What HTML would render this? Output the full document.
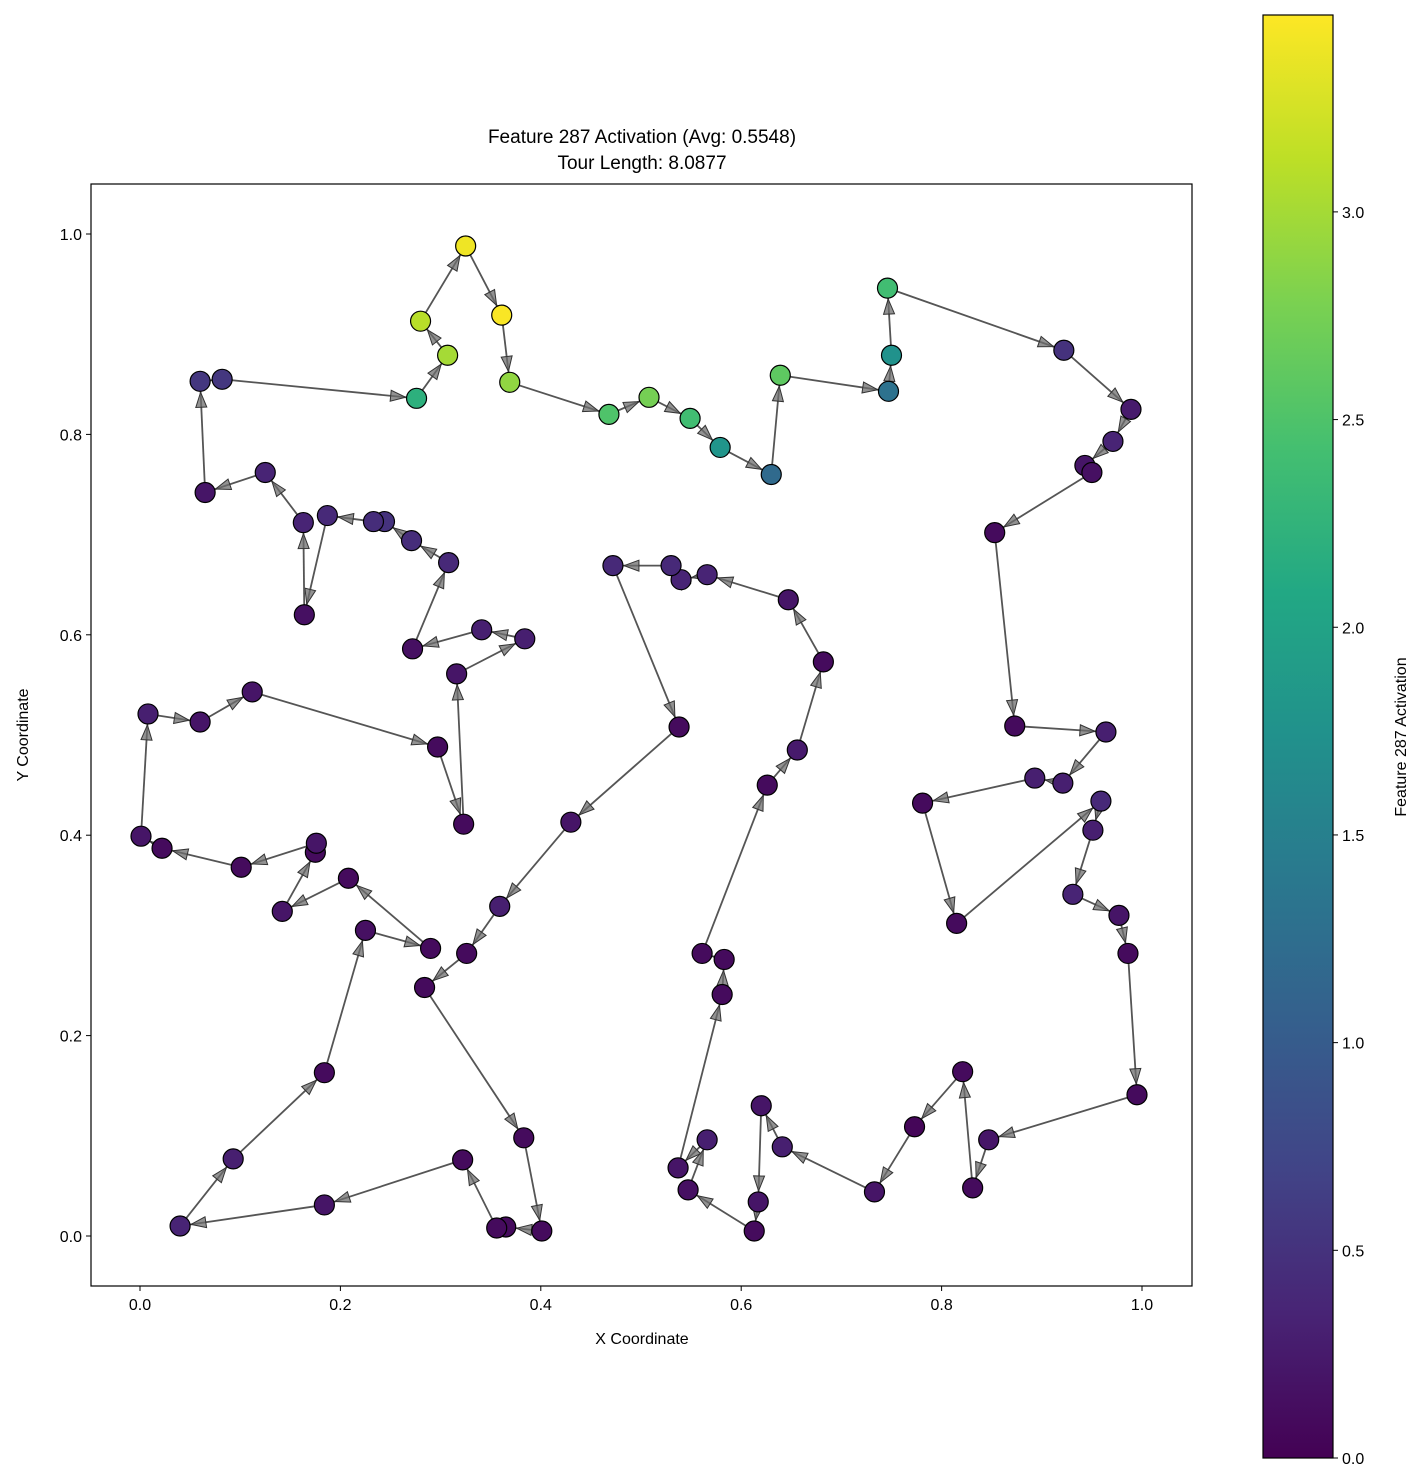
<!DOCTYPE html>
<html><head><meta charset="utf-8"><style>
body{margin:0;background:#fff;}
svg{display:block;font-family:"Liberation Sans","DejaVu Sans",sans-serif;}
</style></head><body>
<svg id="chart" width="1425" height="1484" viewBox="0 0 1425 1484" xmlns="http://www.w3.org/2000/svg">
<defs>
<linearGradient id="vir" x1="0" y1="1" x2="0" y2="0">
<stop offset="0" stop-color="#440154"/><stop offset="0.1" stop-color="#482475"/><stop offset="0.2" stop-color="#414487"/><stop offset="0.3" stop-color="#355f8d"/><stop offset="0.4" stop-color="#2a788e"/><stop offset="0.5" stop-color="#21918c"/><stop offset="0.6" stop-color="#22a884"/><stop offset="0.7" stop-color="#44bf70"/><stop offset="0.8" stop-color="#7ad151"/><stop offset="0.9" stop-color="#bddf26"/><stop offset="1" stop-color="#fde725"/>
</linearGradient>
</defs>
<text x="642" y="143" font-size="19" text-anchor="middle">Feature 287 Activation (Avg: 0.5548)</text>
<text x="642" y="169" font-size="19" text-anchor="middle">Tour Length: 8.0877</text>
<g id="plot"></g>
<rect x="91" y="184" width="1101" height="1102" fill="none" stroke="#000" stroke-width="1.2"/>
<g id="xt"></g>
<g id="yt"></g>
<text x="642" y="1344" font-size="16" text-anchor="middle">X Coordinate</text>
<text transform="translate(28,735) rotate(-90)" font-size="16" text-anchor="middle">Y Coordinate</text>
<rect x="1263" y="15" width="70" height="1443" fill="url(#vir)" stroke="#000" stroke-width="1.2"/>
<g id="ct"></g>
<text transform="translate(1406,737) rotate(-90)" font-size="16" text-anchor="middle">Feature 287 Activation</text>
</svg>
<script>
const xs=[.325,.361,.369,.468,.508,.549,.579,.630,.639,.747,.750,.746,.922,.989,.971,.943,.950,.853,.873,.964,.921,.893,.781,.815,.959,.951,.931,.977,.986,.995,.847,.831,.821,.773,.733,.641,.620,.617,.613,.547,.566,.537,.581,.583,.561,.626,.656,.682,.647,.566,.540,.530,.472,.538,.430,.359,.326,.284,.383,.401,.365,.356,.322,.184,.040,.093,.184,.225,.290,.208,.142,.175,.176,.101,.022,.001,.008,.060,.112,.297,.323,.316,.384,.341,.272,.308,.271,.244,.233,.187,.164,.163,.125,.065,.060,.082,.276,.307,.280];
const ys=[.988,.919,.852,.820,.837,.816,.787,.760,.859,.843,.879,.946,.884,.825,.793,.769,.762,.702,.509,.503,.452,.457,.432,.312,.434,.405,.341,.320,.282,.141,.096,.048,.164,.109,.044,.089,.130,.034,.005,.046,.096,.068,.241,.276,.282,.450,.485,.573,.635,.660,.655,.669,.669,.508,.413,.329,.282,.248,.098,.005,.009,.008,.076,.031,.010,.077,.163,.305,.287,.357,.324,.383,.392,.368,.387,.399,.521,.513,.543,.488,.411,.561,.596,.605,.586,.672,.694,.713,.713,.719,.620,.712,.762,.742,.853,.855,.836,.879,.913];
const acts=[3.40,3.45,2.9,2.5,2.75,2.4,1.8,1.2,2.6,1.3,1.75,2.4,.5,.25,.35,.2,.15,.1,.1,.3,.3,.3,.1,.1,.4,.3,.35,.2,.1,.1,.2,.1,.1,.05,.2,.3,.2,.2,.1,.15,.3,.2,.1,.1,.1,.1,.25,.1,.2,.35,.35,.4,.4,.1,.2,.3,.1,.1,.1,.1,.1,.1,.1,.2,.35,.3,.1,.15,.1,.1,.2,.1,.2,.1,.1,.2,.3,.2,.2,.1,.1,.2,.3,.3,.15,.4,.45,.5,.45,.4,.15,.35,.35,.2,.55,.55,2.2,3.0,3.1];
const xTicks=[0,0.2,0.4,0.6,0.8,1.0];
const yTicks=[0,0.2,0.4,0.6,0.8,1.0];
const cTicks=[0,0.5,1.0,1.5,2.0,2.5,3.0];
const VMAX=3.474;
const NS="http://www.w3.org/2000/svg";
const X=v=>140+v*1002, Y=v=>1236-v*1002, C=v=>1458-v/VMAX*1443;
const vir=["#440154","#482475","#414487","#355f8d","#2a788e","#21918c","#22a884","#44bf70","#7ad151","#bddf26","#fde725"];
function hex(h){return [1,3,5].map(i=>parseInt(h.substr(i,2),16));}
function color(v){let t=Math.max(0,Math.min(1,v/VMAX))*10;let i=Math.min(9,Math.floor(t)),f=t-i;const a=hex(vir[i]),b=hex(vir[i+1]);return "rgb("+a.map((c,k)=>Math.round(c+(b[k]-c)*f)).join(",")+")";}
function mk(tag,attrs,parent){const e=document.createElementNS(NS,tag);for(const k in attrs)e.setAttribute(k,attrs[k]);parent.appendChild(e);return e;}
const plot=document.getElementById('plot');
const n=xs.length;
for(let i=0;i<n;i++){
  const j=(i+1)%n;
  const x1=X(xs[i]),y1=Y(ys[i]),x2=X(xs[j]),y2=Y(ys[j]);
  const ln=mk('line',{x1:x1,y1:y1,x2:x2,y2:y2,stroke:'#555',"stroke-width":1.8},plot);
  
  
  const dx=x2-x1,dy=y2-y1,d=Math.hypot(dx,dy);
  if(d<14)continue;
  const ux=dx/d,uy=dy/d;
  const tx=x2-ux*11,ty=y2-uy*11,bx=tx-ux*15,by=ty-uy*15;
  const pts=[[tx,ty],[bx-uy*5.5,by+ux*5.5],[bx+uy*5.5,by-ux*5.5]].map(p=>p.join(',')).join(' ');
  const ah=mk('polygon',{points:pts,fill:'rgba(110,110,110,0.75)',stroke:'#333',"stroke-width":1},plot);
  
  
}
for(let i=0;i<n;i++){
  const c=mk('circle',{cx:X(xs[i]),cy:Y(ys[i]),r:10,fill:color(acts[i]),stroke:'#000',"stroke-width":1.2},plot);
  
  
}
const xt=document.getElementById('xt');
xTicks.forEach(v=>{
  const l=mk('line',{x1:X(v),x2:X(v),y1:1286,y2:1291,stroke:'#000'},xt);
  
  
  const t=mk('text',{x:X(v),y:1310,"font-size":16,"text-anchor":"middle"},xt);
  t.textContent=v.toFixed(1);
  
  
});
const yt=document.getElementById('yt');
yTicks.forEach(v=>{
  const l=mk('line',{x1:86,x2:91,y1:Y(v),y2:Y(v),stroke:'#000'},yt);
  
  
  const t=mk('text',{x:82,y:Y(v)+6,"font-size":16,"text-anchor":"end"},yt);
  t.textContent=v.toFixed(1);
  
  
});
const ct=document.getElementById('ct');
cTicks.forEach(v=>{
  const l=mk('line',{x1:1333,x2:1338,y1:C(v),y2:C(v),stroke:'#000'},ct);
  
  
  const t=mk('text',{x:1342,y:C(v)+6,"font-size":16},ct);
  t.textContent=v.toFixed(1);
  
  
});
</script>
</body></html>
